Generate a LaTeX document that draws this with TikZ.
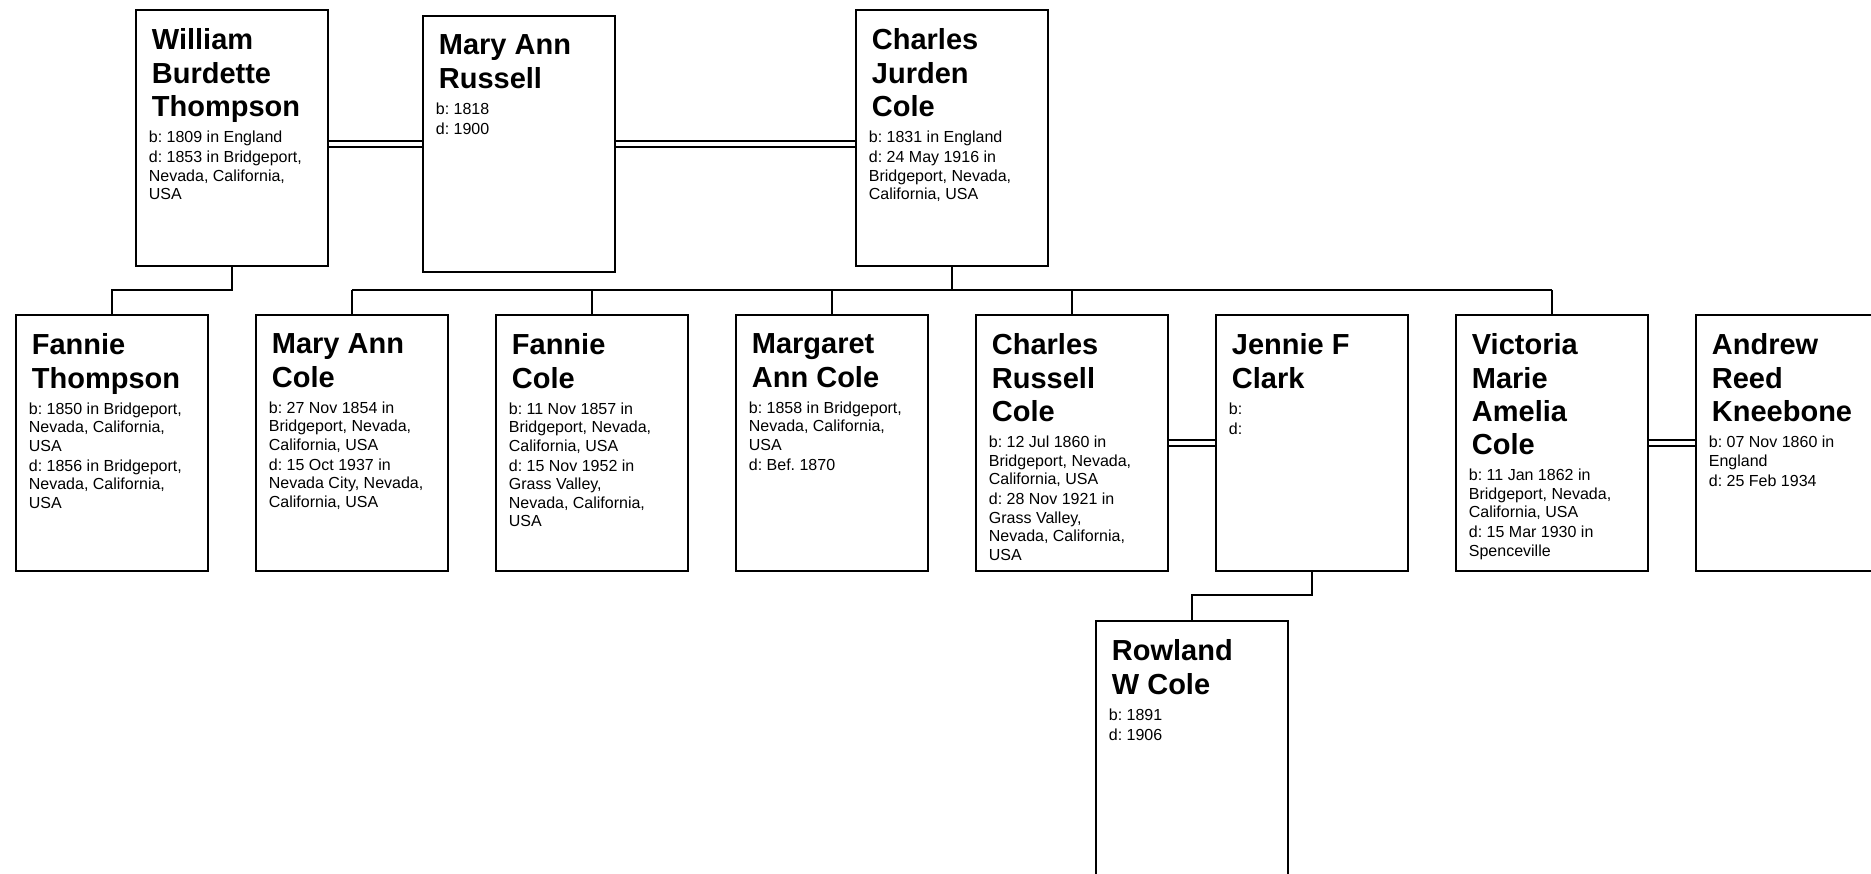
\documentclass[tikz,border=0pt]{standalone}
\usepackage{fontspec}
\setmainfont{Liberation Sans}
\usepackage{tikz}
\usetikzlibrary{positioning}
\frenchspacing

\newcommand{\nm}[1]{{\fontsize{14.5pt}{16.65pt}\selectfont\bfseries\leftskip=1.5pt #1\par}\vspace{3.75pt}}
\newcommand{\bd}[1]{{\fontsize{8pt}{9.25pt}\selectfont #1\par}\vspace{0.75pt}}

\begin{document}
\begin{tikzpicture}[x=0.5pt, y=-0.5pt, line width=0.9pt,
    every node/.style={inner sep=0pt},
    person/.style={draw, rectangle, anchor=north west, minimum width=96pt, minimum height=128pt},
    who/.style={anchor=north west, text width=90pt, align=flush left, below right=9.5pt and 6.5pt of #1.north west},
    wed/.style={double, double distance=2.25pt, line width=0.75pt}]
    \useasboundingbox (0, 0) rectangle (1871, 873);

    \node[person] at (135, 9)    (wbt) {};
    \node[person] at (422, 15)   (mar) {};
    \node[person] at (855, 9)    (cjc) {};
    \node[person] at (15, 314)   (ft)  {};
    \node[person] at (255, 314)  (mac) {};
    \node[person] at (495, 314)  (fc)  {};
    \node[person] at (735, 314)  (mgc) {};
    \node[person] at (975, 314)  (crc) {};
    \node[person] at (1215, 314) (jfc) {};
    \node[person] at (1455, 314) (vmc) {};
    \node[person] at (1695, 314) (ark) {};
    \node[person] at (1095, 620) (rwc) {};

    \node[who=wbt] (wbt-txt) {\nm{William\\Burdette\\Thompson}\bd{b: 1809 in England}\bd{d: 1853 in Bridgeport,\\Nevada, California,\\USA}};
    \node[who=mar] (mar-txt) {\nm{Mary Ann\\Russell}\bd{b: 1818}\bd{d: 1900}};
    \node[who=cjc] (cjc-txt) {\nm{Charles\\Jurden\\Cole}\bd{b: 1831 in England}\bd{d: 24 May 1916 in\\Bridgeport, Nevada,\\California, USA}};
    \node[who=ft]  (ft-txt)  {\nm{Fannie\\Thompson}\bd{b: 1850 in Bridgeport,\\Nevada, California,\\USA}\bd{d: 1856 in Bridgeport,\\Nevada, California,\\USA}};
    \node[who=mac] (mac-txt) {\nm{Mary Ann\\Cole}\bd{b: 27 Nov 1854 in\\Bridgeport, Nevada,\\California, USA}\bd{d: 15 Oct 1937 in\\Nevada City, Nevada,\\California, USA}};
    \node[who=fc]  (fc-txt)  {\nm{Fannie\\Cole}\bd{b: 11 Nov 1857 in\\Bridgeport, Nevada,\\California, USA}\bd{d: 15 Nov 1952 in\\Grass Valley,\\Nevada, California,\\USA}};
    \node[who=mgc] (mgc-txt) {\nm{Margaret\\Ann Cole}\bd{b: 1858 in Bridgeport,\\Nevada, California,\\USA}\bd{d: Bef. 1870}};
    \node[who=crc] (crc-txt) {\nm{Charles\\Russell\\Cole}\bd{b: 12 Jul 1860 in\\Bridgeport, Nevada,\\California, USA}\bd{d: 28 Nov 1921 in\\Grass Valley,\\Nevada, California,\\USA}};
    \node[who=jfc] (jfc-txt) {\nm{Jennie F\\Clark}\bd{b:}\bd{d:}};
    \node[who=vmc] (vmc-txt) {\nm{Victoria\\Marie\\Amelia\\Cole}\bd{b: 11 Jan 1862 in\\Bridgeport, Nevada,\\California, USA}\bd{d: 15 Mar 1930 in\\Spenceville}};
    \node[who=ark] (ark-txt) {\nm{Andrew\\Reed\\Kneebone}\bd{b: 07 Nov 1860 in\\England}\bd{d: 25 Feb 1934}};
    \node[who=rwc] (rwc-txt) {\nm{Rowland\\W Cole}\bd{b: 1891}\bd{d: 1906}};

    \draw[wed] (wbt.east |- mar.west) -- (mar.west);
    \draw[wed] (mar.east) -- (cjc.west |- mar.east);
    \draw[wed] (crc.east) -- (jfc.west);
    \draw[wed] (vmc.east) -- (ark.west);

    \draw (wbt.south) -- ++(0, 23) -| (ft.north);
    \draw (cjc.south) -- ++(0, 23) coordinate (bar);
    \draw (mac.north |- bar) -- (vmc.north |- bar);
    \foreach \k in {mac, fc, mgc, crc, vmc}
        \draw (\k.north |- bar) -- (\k.north);
    \draw (jfc.south) -- ++(0, 23) -| (rwc.north);
\end{tikzpicture}
\end{document}
